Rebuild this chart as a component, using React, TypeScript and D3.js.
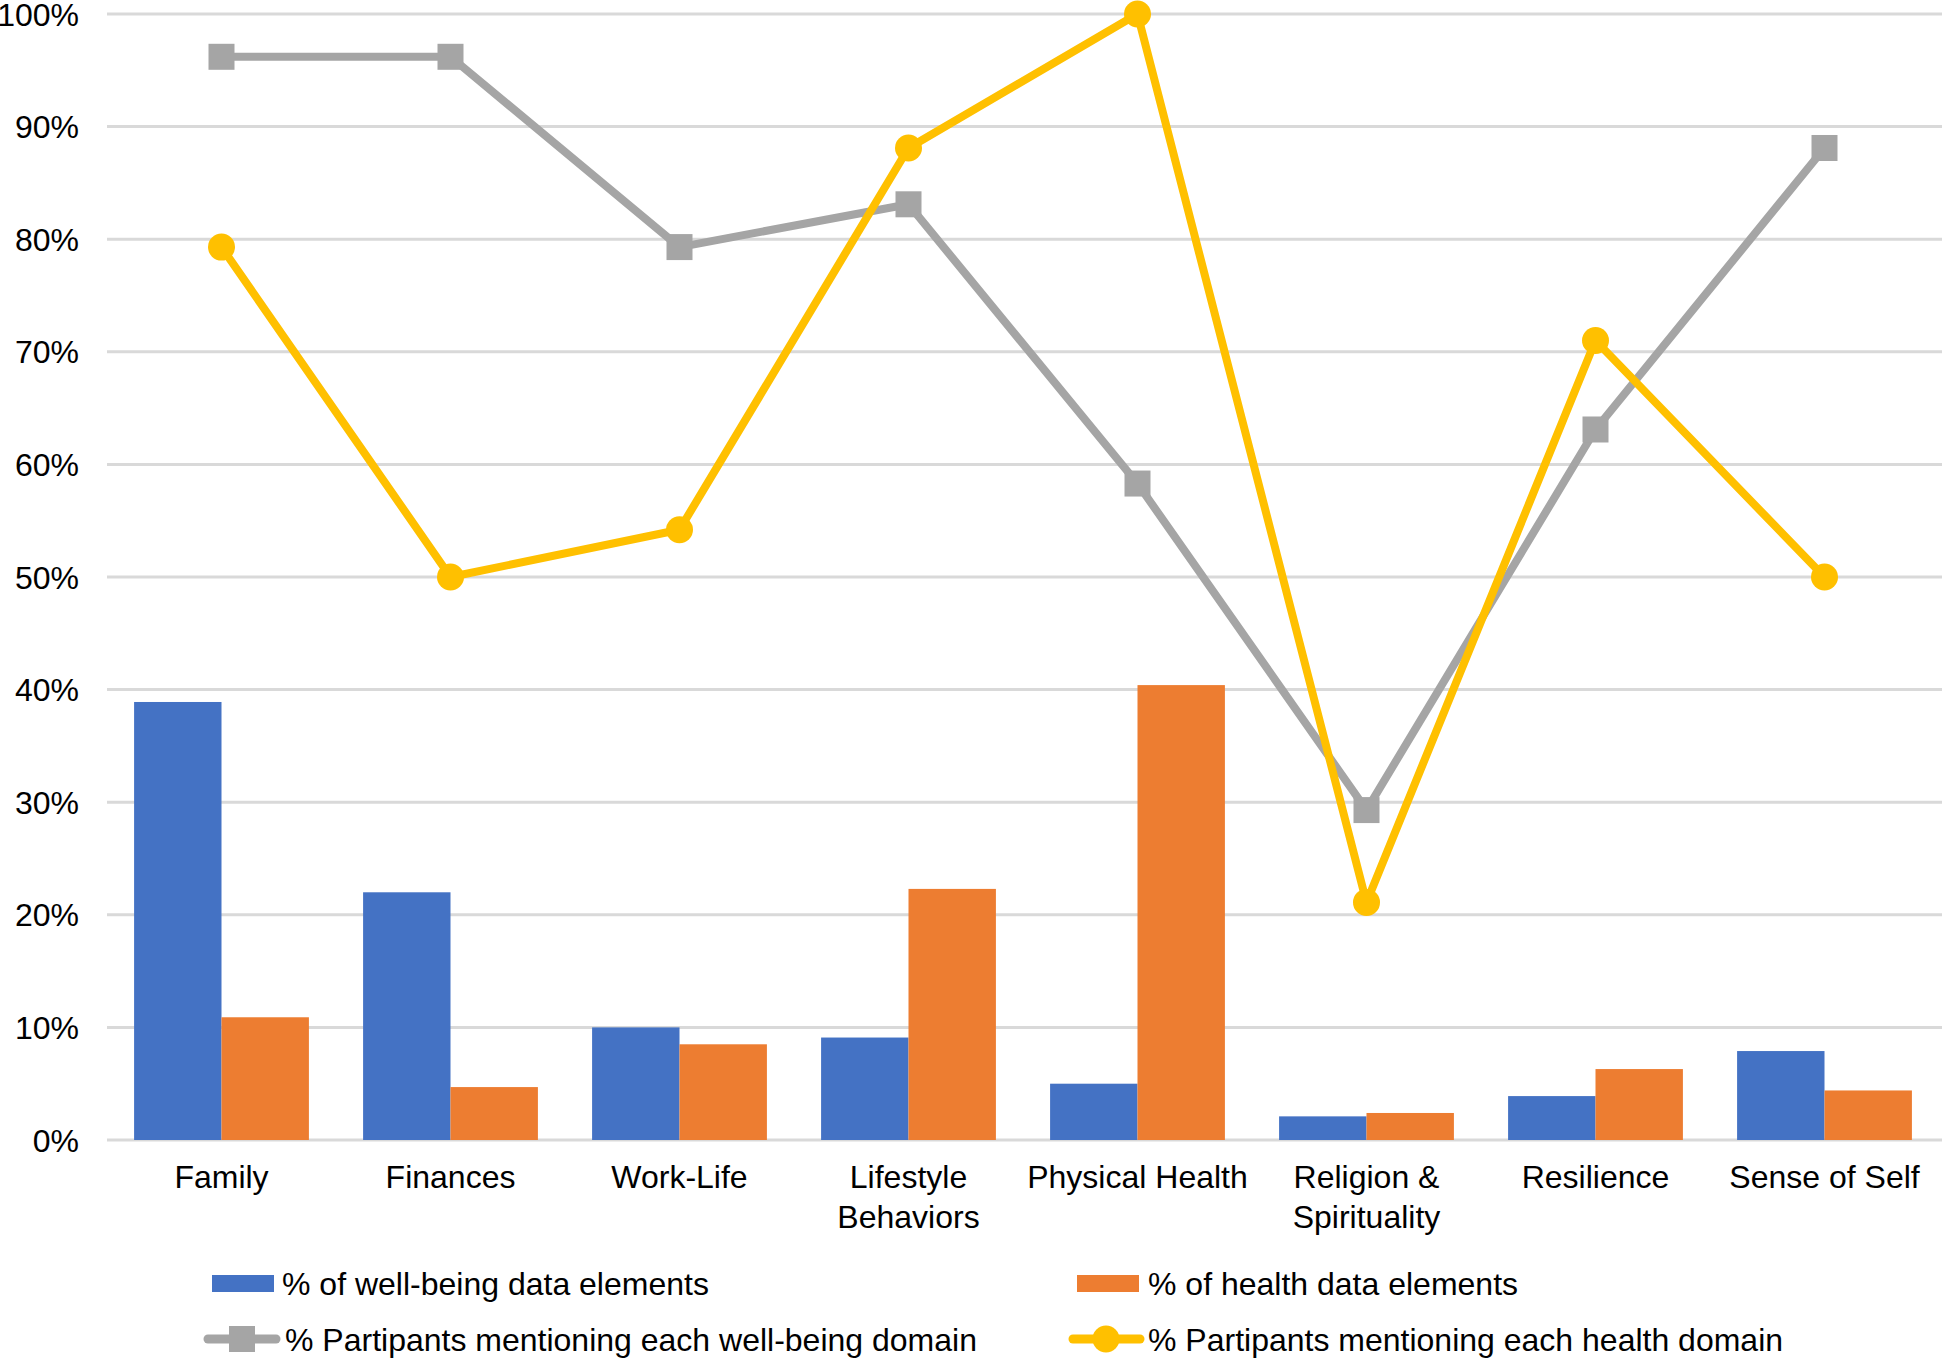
import * as d3 from 'd3';

const categories = [
  'Family',
  'Finances',
  'Work-Life',
  'Lifestyle Behaviors',
  'Physical Health',
  'Religion & Spirituality',
  'Resilience',
  'Sense of Self',
];
const categoryLines = [
  ['Family'],
  ['Finances'],
  ['Work-Life'],
  ['Lifestyle', 'Behaviors'],
  ['Physical Health'],
  ['Religion &', 'Spirituality'],
  ['Resilience'],
  ['Sense of Self'],
];

// bars
const wellBeingElements = [38.9, 22.0, 10.0, 9.1, 5.0, 2.1, 3.9, 7.9];
const healthElements = [10.9, 4.7, 8.5, 22.3, 40.4, 2.4, 6.3, 4.4];
// lines
const wellBeingMentions = [96.2, 96.2, 79.3, 83.1, 58.3, 29.3, 63.1, 88.1];
const healthMentions = [79.3, 50.0, 54.2, 88.1, 100.0, 21.1, 71.0, 50.0];

const yTicks = [0, 10, 20, 30, 40, 50, 60, 70, 80, 90, 100];

const W = 1942;
const H = 1358;
const FONT = '"Liberation Sans", Arial, Helvetica, sans-serif';

const BLUE = '#4472C4';
const ORANGE = '#ED7D31';
const GRAY = '#A5A5A5';
const YELLOW = '#FFC000';

export default function App() {
  const x = d3.scaleBand<string>().domain(categories).range([107, 1939]).paddingInner(0).paddingOuter(0);
  const y = d3.scaleLinear().domain([0, 100]).range([1140, 14]);
  const sub = d3
    .scaleBand<string>()
    .domain(['wb', 'h'])
    .range([0, x.bandwidth()])
    .paddingOuter(0.31)
    .paddingInner(0);

  const cx = (c: string) => (x(c) ?? 0) + x.bandwidth() / 2;
  const line = d3
    .line<number>()
    .x((_, i) => cx(categories[i]))
    .y((d) => y(d));

  return (
    <svg
      width={W}
      height={H}
      style={{ position: 'absolute', left: 0, top: 0, background: '#fff' }}
      fontFamily={FONT}
    >
      {/* gridlines + y labels */}
      {yTicks.map((t) => (
        <g key={t}>
          <line x1={107} x2={W} y1={y(t)} y2={y(t)} stroke="#D9D9D9" strokeWidth={3} />
          <text x={79} y={y(t)} dy="0.36em" textAnchor="end" fontSize={32} fill="#000">
            {t}%
          </text>
        </g>
      ))}

      {/* bars */}
      {categories.map((c, i) => (
        <g key={c} transform={`translate(${x(c)},0)`}>
          <rect
            x={sub('wb')}
            width={sub.bandwidth()}
            y={y(wellBeingElements[i])}
            height={y(0) - y(wellBeingElements[i])}
            fill={BLUE}
          />
          <rect
            x={sub('h')}
            width={sub.bandwidth()}
            y={y(healthElements[i])}
            height={y(0) - y(healthElements[i])}
            fill={ORANGE}
          />
        </g>
      ))}

      {/* gray line */}
      <path d={line(wellBeingMentions) ?? ''} fill="none" stroke={GRAY} strokeWidth={8} strokeLinejoin="round" />
      {wellBeingMentions.map((v, i) => (
        <rect key={i} x={cx(categories[i]) - 13} y={y(v) - 13} width={26} height={26} fill={GRAY} />
      ))}

      {/* yellow line */}
      <path d={line(healthMentions) ?? ''} fill="none" stroke={YELLOW} strokeWidth={8} strokeLinejoin="round" />
      {healthMentions.map((v, i) => (
        <circle key={i} cx={cx(categories[i])} cy={y(v)} r={13.5} fill={YELLOW} />
      ))}

      {/* category labels */}
      {categories.map((c, i) => (
        <text key={c} x={cx(c)} textAnchor="middle" fontSize={32} fill="#000">
          {categoryLines[i].map((l, j) => (
            <tspan key={j} x={cx(c)} y={1188 + j * 40}>
              {l}
            </tspan>
          ))}
        </text>
      ))}

      {/* legend */}
      <g fontSize={32} fill="#000">
        <rect x={212} y={1275} width={62} height={17} fill={BLUE} />
        <text x={282} y={1283} dy="0.36em">% of well-being data elements</text>

        <rect x={1077} y={1275} width={62} height={17} fill={ORANGE} />
        <text x={1148} y={1283} dy="0.36em">% of health data elements</text>

        <line x1={208} x2={276} y1={1339} y2={1339} stroke={GRAY} strokeWidth={9} strokeLinecap="round" />
        <rect x={229} y={1326} width={26} height={26} fill={GRAY} />
        <text x={285} y={1339} dy="0.36em">% Partipants mentioning each well-being domain</text>

        <line x1={1073} x2={1140} y1={1339} y2={1339} stroke={YELLOW} strokeWidth={9} strokeLinecap="round" />
        <circle cx={1106} cy={1339} r={13.5} fill={YELLOW} />
        <text x={1148} y={1339} dy="0.36em">% Partipants mentioning each health domain</text>
      </g>
    </svg>
  );
}
